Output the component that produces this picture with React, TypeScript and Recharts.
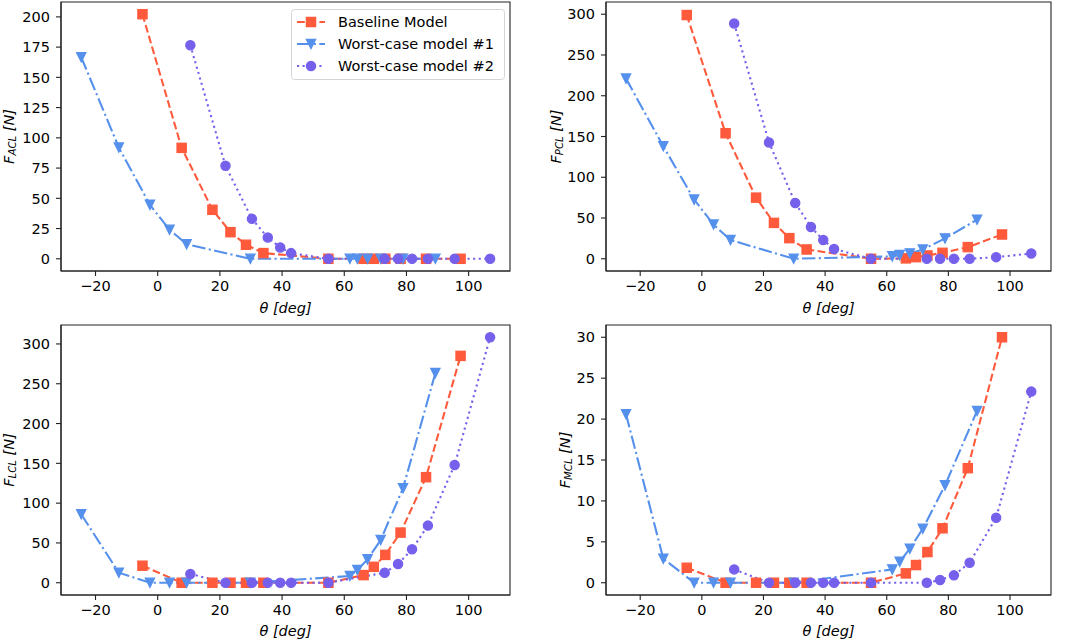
import React from 'react';
import { LineChart, Line, XAxis, YAxis, ReferenceArea } from 'recharts';

// ---------- data ----------
const baselineX = [-4.9, 7.7, 17.6, 23.4, 28.4, 34.0, 54.9, 66.2, 69.5, 73.2, 78.1, 86.3, 97.4];
const worst1X = [-24.6, -12.5, -2.5, 3.8, 9.3, 29.8, 61.8, 64.2, 67.5, 71.7, 78.9, 89.3];
const worst2X = [10.5, 21.8, 30.3, 35.4, 39.4, 42.9, 54.9, 73.0, 77.3, 81.8, 86.9, 95.5, 106.9];

const aclBaseline = [202.2, 91.7, 40.5, 22, 11.6, 4.7, 0, 0, 0, 0, 0, 0, 0];
const aclWorst1 = [166.7, 92, 44.6, 24, 12.1, 0, 0, 0, 0, 0, 0, 0];
const aclWorst2 = [176.6, 76.9, 33, 17.6, 9.4, 4.7, 0, 0, 0, 0, 0, 0, 0];

const pclBaseline = [299, 154, 75, 44, 25.3, 11.4, 0, 0.5, 2, 4, 7.3, 14.3, 29.8];
const pclWorst1 = [221, 138, 72.6, 42, 23, 0, 3, 4.5, 6.5, 11.4, 25, 48];
const pclWorst2 = [288.6, 142.7, 68.5, 39, 23, 12, 0, 0, 0, 0, 0, 2, 6.5];

const lclBaseline = [21.4, 0, 0, 0, 0, 0, 0, 9.6, 20, 35, 63, 132.6, 285];
const lclWorst1 = [86, 12.6, 0, 0, 0, 0, 8.4, 16, 29.4, 53.7, 118.8, 263.5];
const lclWorst2 = [11, 0, 0, 0, 0, 0, 0, 12.6, 23.5, 42, 71.8, 148, 308.4];

const mclBaseline = [1.83, 0, 0, 0, 0, 0, 0, 1.14, 2.16, 3.75, 6.65, 14, 30];
const mclWorst1 = [20.6, 2.94, 0, 0, 0, 0, 1.63, 2.57, 4.16, 6.6, 11.9, 21];
const mclWorst2 = [1.63, 0, 0, 0, 0, 0, 0, 0, 0.33, 0.9, 2.45, 7.95, 23.36];

const seriesNames = ['Baseline Model', 'Worst-case model #1', 'Worst-case model #2'];
const xTicks = [-20, 0, 20, 40, 60, 80, 100];
const aclTicks = [0, 25, 50, 75, 100, 125, 150, 175, 200];
const pclTicks = [0, 50, 100, 150, 200, 250, 300];
const lclTicks = [0, 50, 100, 150, 200, 250, 300];
const mclTicks = [0, 5, 10, 15, 20, 25, 30];

// ---------- styles ----------
const FONT = 'DejaVu Sans, sans-serif';
const FS = 14.5;
const TXT = '#000';
const AX = '#222';
const COLORS = ['#FF5A3C', '#5590EC', '#7560EC'];
const DASHES = ['7.8 3.4', '13.4 3.4 2.1 3.4', '2.1 3.5'];
const LW = 2.1;
const X_DOMAIN: [number, number] = [-31.1, 113.3];

const zip = (xs: number[], ys: number[]) => xs.map((x, i) => ({ x, y: ys[i] }));
const fmt = (v: number) => String(v).replace('-', '\u2212');

function Marker({ kind, cx, cy, color }: { kind: number; cx: number; cy: number; color: string }) {
  if (cx == null || cy == null || isNaN(cx) || isNaN(cy)) return null;
  if (kind === 0) {
    const h = 4.6;
    return <rect x={cx - h} y={cy - h} width={2 * h} height={2 * h} fill={color} stroke={color} strokeWidth={1.3} />;
  }
  if (kind === 1) {
    const h = 4.6;
    return (
      <path
        d={`M${cx - h},${cy - h} L${cx + h},${cy - h} L${cx},${cy + h} Z`}
        fill={color}
        stroke={color}
        strokeWidth={1.3}
      />
    );
  }
  return <circle cx={cx} cy={cy} r={4.6} fill={color} stroke={color} strokeWidth={1.3} />;
}

const makeDot = (kind: number) => (props: any) => (
  <g key={`d-${kind}-${props.index}`}>
    <Marker kind={kind} cx={props.cx} cy={props.cy} color={COLORS[kind]} />
  </g>
);

function LegendBox() {
  const rows = [13, 35, 57];
  return (
    <svg width={214} height={72} style={{ position: 'absolute', left: 291, top: 9, display: 'block' }}>
      <rect x={0.5} y={0.5} width={213} height={70} rx={3} ry={3} fill="rgba(255,255,255,0.85)" stroke="#d5d5d5" strokeWidth={1} />
      {seriesNames.map((name, i) => (
        <g key={name}>
          <line x1={6} y1={rows[i]} x2={34} y2={rows[i]} stroke={COLORS[i]} strokeWidth={LW} strokeDasharray={DASHES[i]} />
          <Marker kind={i} cx={20} cy={rows[i]} color={COLORS[i]} />
          <text x={47} y={rows[i]} dy="0.36em" fontFamily={FONT} fontSize={FS} fill={TXT}>
            {name}
          </text>
        </g>
      ))}
    </svg>
  );
}

const XTick = (props: any) => (
  <text x={props.x} y={props.y} dy="0.71em" textAnchor="middle" fontFamily={FONT} fontSize={FS} fill={TXT}>
    {fmt(props.payload.value)}
  </text>
);
const YTick = (props: any) => (
  <text x={props.x} y={props.y} dy="0.36em" textAnchor="end" fontFamily={FONT} fontSize={FS} fill={TXT}>
    {fmt(props.payload.value)}
  </text>
);

type PanelProps = {
  left: number;
  top: number;
  width: number;
  height: number;
  margin: { top: number; right: number; bottom: number; left: number };
  yAxisWidth: number;
  xAxisHeight: number;
  yDomain: [number, number];
  yTicks: number[];
  sub: string;
  yLabelX: number;
  xLabelY: number;
  series: number[][];
  legend?: boolean;
};

function Panel(p: PanelProps) {
  const xsList = [baselineX, worst1X, worst2X];
  const yLabel = (props: any) => {
    const vb = props.viewBox || {};
    const cy = vb.y + vb.height / 2;
    const cx = p.yLabelX;
    return (
      <text
        x={cx}
        y={cy}
        textAnchor="middle"
        transform={`rotate(-90, ${cx}, ${cy})`}
        fontFamily={FONT}
        fontSize={FS}
        fontStyle="italic"
        fill={TXT}
      >
        F
        <tspan fontSize={10.2} dy={2}>
          {p.sub}
        </tspan>
        <tspan dy={-2}>{' [N]'}</tspan>
      </text>
    );
  };
  const xLabel = (props: any) => {
    const vb = props.viewBox || {};
    const cx = vb.x + vb.width / 2;
    return (
      <text x={cx} y={p.xLabelY} textAnchor="middle" fontFamily={FONT} fontSize={FS} fontStyle="italic" fill={TXT}>
        {'\u03b8 [deg]'}
      </text>
    );
  };
  return (
    <div style={{ position: 'absolute', left: p.left, top: p.top, width: p.width, height: p.height }}>
      <LineChart width={p.width} height={p.height} margin={p.margin}>
        <XAxis
          xAxisId="b"
          type="number"
          dataKey="x"
          domain={X_DOMAIN}
          allowDataOverflow
          ticks={xTicks}
          interval={0}
          tick={<XTick />}
          tickSize={5}
          tickMargin={5}
          height={p.xAxisHeight}
          axisLine={{ stroke: AX, strokeWidth: 1.1 }}
          tickLine={{ stroke: AX, strokeWidth: 1.1 }}
          label={{ content: xLabel }}
        />
        <YAxis
          yAxisId="l"
          type="number"
          domain={p.yDomain}
          allowDataOverflow
          ticks={p.yTicks}
          interval={0}
          tick={<YTick />}
          tickSize={5}
          tickMargin={6}
          width={p.yAxisWidth}
          axisLine={{ stroke: AX, strokeWidth: 1.1 }}
          tickLine={{ stroke: AX, strokeWidth: 1.1 }}
          label={{ content: yLabel }}
        />
        <ReferenceArea
          xAxisId="b"
          yAxisId="l"
          x1={X_DOMAIN[0]}
          x2={X_DOMAIN[1]}
          y1={p.yDomain[0]}
          y2={p.yDomain[1]}
          fill="none"
          fillOpacity={0}
          stroke={AX}
          strokeWidth={1.1}
          ifOverflow="visible"
        />
        {p.series.map((ys, i) => (
          <Line
            key={seriesNames[i]}
            name={seriesNames[i]}
            xAxisId="b"
            yAxisId="l"
            data={zip(xsList[i], ys)}
            dataKey="y"
            type="linear"
            stroke={COLORS[i]}
            strokeWidth={LW}
            strokeDasharray={DASHES[i]}
            dot={makeDot(i)}
            activeDot={false}
            isAnimationActive={false}
          />
        ))}
      </LineChart>
      {p.legend && <LegendBox />}
    </div>
  );
}

export default function App() {
  return (
    <div style={{ position: 'absolute', left: 0, top: 0, width: 1065, height: 643, background: '#fff' }}>
      <Panel
        left={0}
        top={0}
        width={532}
        height={320}
        margin={{ top: 2, right: 22, bottom: 0, left: 0 }}
        yAxisWidth={61}
        xAxisHeight={49}
        yDomain={[-10.1, 212.3]}
        yTicks={aclTicks}
        sub="ACL"
        yLabelX={14}
        xLabelY={313}
        series={[aclBaseline, aclWorst1, aclWorst2]}
        legend
      />
      <Panel
        left={532}
        top={0}
        width={533}
        height={320}
        margin={{ top: 2, right: 14, bottom: 0, left: 0 }}
        yAxisWidth={74}
        xAxisHeight={49}
        yDomain={[-15, 315]}
        yTicks={pclTicks}
        sub="PCL"
        yLabelX={28.5}
        xLabelY={313}
        series={[pclBaseline, pclWorst1, pclWorst2]}
      />
      <Panel
        left={0}
        top={320}
        width={532}
        height={323}
        margin={{ top: 5, right: 22, bottom: 0, left: 0 }}
        yAxisWidth={61}
        xAxisHeight={48}
        yDomain={[-15.4, 323.8]}
        yTicks={lclTicks}
        sub="LCL"
        yLabelX={14}
        xLabelY={316}
        series={[lclBaseline, lclWorst1, lclWorst2]}
      />
      <Panel
        left={532}
        top={320}
        width={533}
        height={323}
        margin={{ top: 5, right: 14, bottom: 0, left: 0 }}
        yAxisWidth={74}
        xAxisHeight={48}
        yDomain={[-1.5, 31.5]}
        yTicks={mclTicks}
        sub="MCL"
        yLabelX={37.5}
        xLabelY={316}
        series={[mclBaseline, mclWorst1, mclWorst2]}
      />
    </div>
  );
}
